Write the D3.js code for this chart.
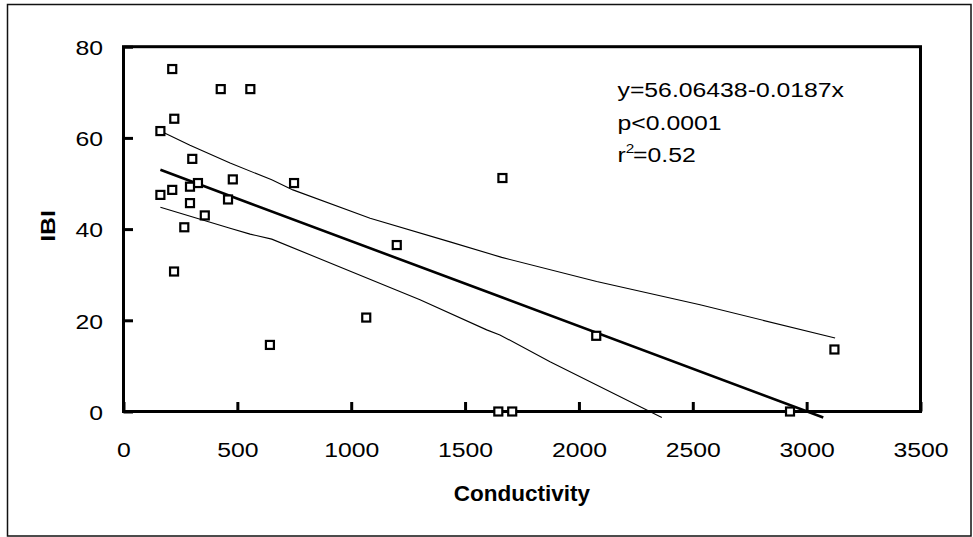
<!DOCTYPE html>
<html>
<head>
<meta charset="utf-8">
<script src="https://cdn.jsdelivr.net/npm/d3@7"></script>
<style>
  html, body { margin: 0; padding: 0; background: #fff; }
  svg { display: block; }
  text { font-family: "Liberation Sans", Arial, sans-serif; fill: #000; }
</style>
</head>
<body>
<svg id="chart" width="973" height="537"></svg>
<script>
// ---- data ----
const conductivity = [214, 427, 557, 223, 162, 302, 480, 327, 749, 1664, 292, 214, 162, 459, 292, 357, 267, 222, 1200, 1066, 643, 2076, 3122, 1646, 1707, 2927];
const ibi          = [75.1, 70.7, 70.7, 64.2, 61.5, 55.4, 50.9, 50.1, 50.1, 51.2, 49.3, 48.6, 47.5, 46.5, 45.7, 43.0, 40.4, 30.7, 36.5, 20.6, 14.6, 16.6, 13.6, 0, 0, 0];

const fitX = [162, 557, 1664, 3073];
const fitY = [53.0, 45.6, 25.0, -1.3];

const upperX = [162, 292, 468, 651, 744, 1083, 1434, 1661, 2078, 2532, 3125];
const upperY = [61.5, 58.4, 54.5, 50.8, 48.6, 42.4, 37.2, 33.8, 28.5, 23.4, 16.1];

const lowerX = [162, 468, 556, 651, 1200, 1302, 1595, 1653, 1873, 2364];
const lowerY = [44.8, 40.2, 38.9, 37.8, 26.6, 24.5, 17.9, 16.8, 10.9, -1.3];

const xTicks = [0, 500, 1000, 1500, 2000, 2500, 3000, 3500];
const yTicks = [0, 20, 40, 60, 80];

const xTitle = "Conductivity";
const yTitle = "IBI";
const statLines = ["y=56.06438-0.0187x", "p<0.0001", "r"];
const r2Value = "=0.52";

// ---- drawing ----
(function () {
const svg = d3.select("#chart");
const W = 973, H = 537;
const pLeft = 123.5, pRight = 920.5, pTop = 46.7, pBottom = 411.5;
const SX = 1.18; // horizontal glyph stretch seen in the reference

svg.append("rect").attr("width", W).attr("height", H).attr("fill", "#fff");
svg.append("rect")
  .attr("x", 7.5).attr("y", 4.5).attr("width", 963.5).attr("height", 531.5)
  .attr("fill", "none").attr("stroke", "#111").attr("stroke-width", 1.5);

const x = d3.scaleLinear().domain([0, 3500]).range([pLeft, pRight]);
const y = d3.scaleLinear().domain([0, 80]).range([pBottom, pTop]);

// axes with inward ticks
const gx = svg.append("g").attr("transform", `translate(0,${pBottom})`)
  .call(d3.axisBottom(x).tickValues(xTicks).tickSizeInner(-9.5).tickSizeOuter(0).tickFormat(d3.format("d")));
const gy = svg.append("g").attr("transform", `translate(${pLeft},0)`)
  .call(d3.axisLeft(y).tickValues(yTicks).tickSizeInner(-9.5).tickSizeOuter(0).tickFormat(d3.format("d")));

[gx, gy].forEach(g => {
  g.select(".domain").remove();
  g.selectAll(".tick line").attr("stroke", "#000").attr("stroke-width", 3);
  g.selectAll(".tick text").attr("font-size", 21).attr("font-family", "Liberation Sans, Arial, sans-serif").attr("fill", "#000");
});
gx.selectAll(".tick text").attr("y", null).attr("dy", null)
  .attr("transform", `translate(0,45) scale(${SX},1)`);
gy.selectAll(".tick text").attr("x", null).attr("dy", null)
  .attr("transform", `translate(-20.5,7.8) scale(${SX},1)`);

// plot frame
svg.append("rect")
  .attr("x", pLeft).attr("y", pTop).attr("width", pRight - pLeft).attr("height", pBottom - pTop)
  .attr("fill", "none").attr("stroke", "#000").attr("stroke-width", 3);

// lines
const line = d3.line().x(d => x(d[0])).y(d => y(d[1]));
svg.append("path").datum(d3.zip(upperX, upperY)).attr("d", line)
  .attr("fill", "none").attr("stroke", "#000").attr("stroke-width", 1.1);
svg.append("path").datum(d3.zip(lowerX, lowerY)).attr("d", line)
  .attr("fill", "none").attr("stroke", "#000").attr("stroke-width", 1.1);
svg.append("path").datum(d3.zip(fitX, fitY)).attr("d", line)
  .attr("fill", "none").attr("stroke", "#000").attr("stroke-width", 2.6);

// markers
const s = 8;
svg.append("g").selectAll("rect")
  .data(d3.zip(conductivity, ibi))
  .join("rect")
  .attr("x", d => x(d[0]) - s / 2).attr("y", d => y(d[1]) - s / 2)
  .attr("width", s).attr("height", s)
  .attr("fill", "#fff").attr("stroke", "#000").attr("stroke-width", 2.2);

// axis titles
svg.append("text")
  .attr("x", (pLeft + pRight) / 2).attr("y", 500.5)
  .attr("text-anchor", "middle").attr("font-weight", "bold").attr("font-size", 22.5)
  .text(xTitle);
svg.append("text")
  .attr("transform", `translate(55,226) rotate(-90) scale(${SX},1)`)
  .attr("text-anchor", "middle").attr("font-weight", "bold").attr("font-size", 21)
  .text(yTitle);

// statistics annotation
const ann = svg.append("g").attr("font-size", 21);
ann.append("text").attr("transform", `translate(617.5,97) scale(${SX},1)`).text(statLines[0]);
ann.append("text").attr("transform", `translate(617.5,129.5) scale(${SX},1)`).text(statLines[1]);
const t3 = ann.append("text").attr("transform", `translate(617.5,162) scale(${SX},1)`);
t3.append("tspan").text(statLines[2]);
t3.append("tspan").attr("font-size", 13).attr("dy", -9).text("2");
t3.append("tspan").attr("dy", 9).attr("dx", -1).text(r2Value);
})();
</script>
</body>
</html>
